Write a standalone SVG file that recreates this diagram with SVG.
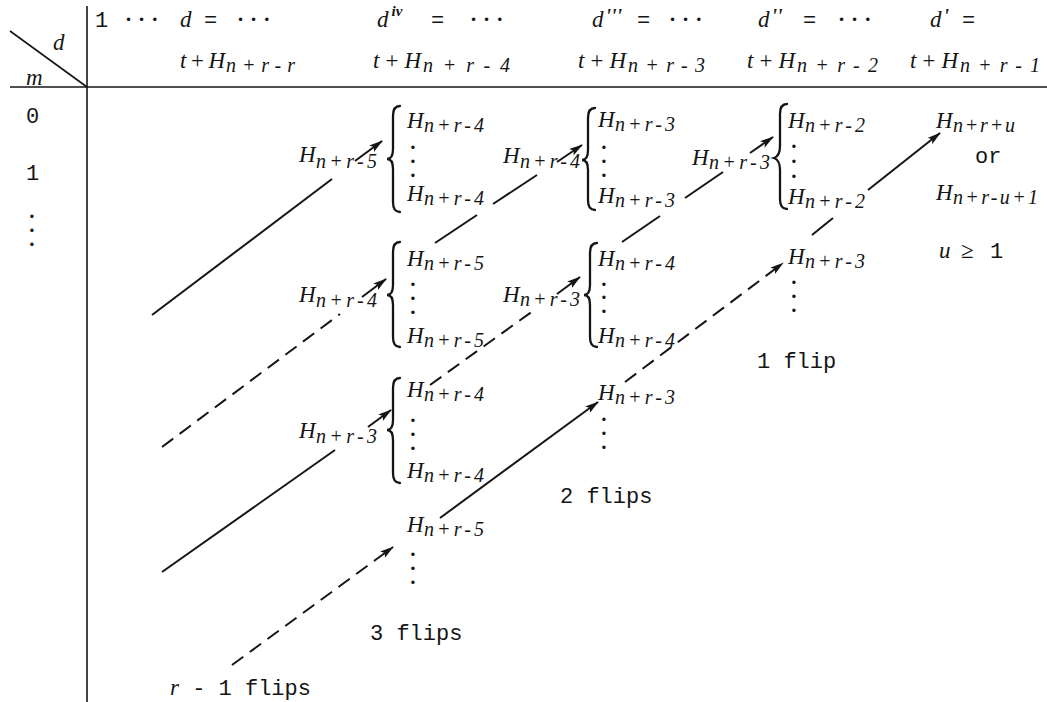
<svg xmlns="http://www.w3.org/2000/svg" width="1047" height="702" viewBox="0 0 1047 702">
<defs>
<style>
.m{font-family:"Liberation Serif",serif;font-style:italic;font-size:23px;fill:#151515}
.s{font-family:"Liberation Serif",serif;font-style:italic;font-size:20px;fill:#151515}
.t{font-family:"Liberation Mono",monospace;font-size:22px;fill:#151515}
.el{font-family:"DejaVu Sans",sans-serif;font-size:12px;letter-spacing:6px;fill:#151515}
.vd{font-family:"DejaVu Sans",sans-serif;font-size:11.5px;text-anchor:middle;fill:#151515}
.ln{stroke:#151515;stroke-width:2;fill:none}
.ds{stroke-dasharray:14 8}
.br{stroke:#151515;stroke-width:2.3;fill:none;stroke-linecap:round}
.fr{stroke:#151515;stroke-width:1.6;fill:none}
</style>
<marker id="ah" viewBox="0 0 14 8" refX="13" refY="4" markerWidth="14" markerHeight="8" markerUnits="userSpaceOnUse" orient="auto">
<path d="M0,0 L14,4 L0,8 L3,4 z" fill="#151515"/>
</marker>
</defs>
<rect width="1047" height="702" fill="#fff"/>

<g id="frame">
<line class="fr" x1="87" y1="6" x2="87" y2="702"/>
<line class="fr" x1="10" y1="87" x2="1047" y2="87"/>
<line class="fr" x1="10" y1="31" x2="87" y2="87"/>
<text class="m" x="53" y="50">d</text>
<text class="m" x="26" y="85" font-size="19">m</text>
</g>

<g id="header">
<g id="col-d">
<text class="t" x="95" y="27">1</text>
<text class="el" x="125" y="24">•••</text>
<text class="m" x="180" y="27">d</text>
<text class="t" x="204" y="27">=</text>
<text class="el" x="237" y="24">•••</text>
<text class="m" x="180" y="68" textLength="45" lengthAdjust="spacing">t + H</text>
<text class="s" x="226" y="72" textLength="69" lengthAdjust="spacing">n+r-r</text>
</g>
<g id="col-div">
<text class="m" x="377" y="27">d<tspan font-size="15" font-weight="bold" dx="3" dy="-11">iv</tspan></text>
<text class="t" x="431" y="27">=</text>
<text class="el" x="470" y="24">•••</text>
<text class="m" x="373" y="68" textLength="48" lengthAdjust="spacing">t + H</text>
<text class="s" x="423" y="72" textLength="87" lengthAdjust="spacing">n+r-4</text>
</g>
<g id="col-diii">
<text class="m" x="592" y="27">d<tspan font-weight="bold" font-size="20" dx="2" dy="-4">'''</tspan></text>
<text class="t" x="637" y="27">=</text>
<text class="el" x="669" y="24">•••</text>
<text class="m" x="578" y="68" textLength="48" lengthAdjust="spacing">t + H</text>
<text class="s" x="628" y="72" textLength="77" lengthAdjust="spacing">n+r-3</text>
</g>
<g id="col-dii">
<text class="m" x="758" y="27">d<tspan font-weight="bold" font-size="20" dx="2" dy="-4">''</tspan></text>
<text class="t" x="803" y="27">=</text>
<text class="el" x="838" y="24">•••</text>
<text class="m" x="747" y="68" textLength="48" lengthAdjust="spacing">t + H</text>
<text class="s" x="797" y="72" textLength="81" lengthAdjust="spacing">n+r-2</text>
</g>
<g id="col-di">
<text class="m" x="930" y="27">d<tspan font-weight="bold" font-size="20" dx="2" dy="-4">'</tspan></text>
<text class="t" x="962" y="27">=</text>
<text class="m" x="910" y="68" textLength="48" lengthAdjust="spacing">t + H</text>
<text class="s" x="960" y="72" textLength="80" lengthAdjust="spacing">n+r-1</text>
</g>
</g>

<g id="row-labels">
<text class="t" x="26" y="123">0</text>
<text class="t" x="26" y="180">1</text>
<text class="vd" x="32" y="221">•</text><text class="vd" x="32" y="235">•</text><text class="vd" x="32" y="249">•</text>
</g>

<g id="node-A1">
<path class="br" d="M400,106 Q393,106 393,116 L393,149 Q393,159 387,159 Q393,159 393,169 L393,202 Q393,212 400,212"/>
<text class="m" x="407" y="128">H</text><text class="s" x="424" y="132" textLength="60" lengthAdjust="spacing">n+r-4</text>
<text class="vd" x="413" y="152">•</text><text class="vd" x="413" y="166">•</text><text class="vd" x="413" y="180">•</text>
<text class="m" x="407" y="201">H</text><text class="s" x="424" y="205" textLength="60" lengthAdjust="spacing">n+r-4</text>
</g>
<g id="label-A1-in">
<text class="m" x="299" y="162">H</text><text class="s" x="316" y="168" textLength="61" lengthAdjust="spacing">n+r-5</text>
</g>

<g id="node-A2">
<path class="br" d="M400,242 Q393,242 393,252 L393,285 Q393,295 387,295 Q393,295 393,305 L393,337 Q393,347 400,347"/>
<text class="m" x="407" y="266">H</text><text class="s" x="424" y="270" textLength="60" lengthAdjust="spacing">n+r-5</text>
<text class="vd" x="413" y="289">•</text><text class="vd" x="413" y="303">•</text><text class="vd" x="413" y="317">•</text>
<text class="m" x="407" y="343">H</text><text class="s" x="424" y="347" textLength="60" lengthAdjust="spacing">n+r-5</text>
</g>
<g id="label-A2-in">
<text class="m" x="299" y="302">H</text><text class="s" x="316" y="307" textLength="61" lengthAdjust="spacing">n+r-4</text>
</g>

<g id="node-A3">
<path class="br" d="M400,378 Q393,378 393,388 L393,420 Q393,430 387,430 Q393,430 393,440 L393,473 Q393,483 400,483"/>
<text class="m" x="407" y="397">H</text><text class="s" x="424" y="401" textLength="60" lengthAdjust="spacing">n+r-4</text>
<text class="vd" x="413" y="425">•</text><text class="vd" x="413" y="439">•</text><text class="vd" x="413" y="453">•</text>
<text class="m" x="407" y="478">H</text><text class="s" x="424" y="482" textLength="60" lengthAdjust="spacing">n+r-4</text>
</g>
<g id="label-A3-in">
<text class="m" x="299" y="438">H</text><text class="s" x="316" y="443" textLength="61" lengthAdjust="spacing">n+r-3</text>
</g>

<g id="node-A4">
<text class="m" x="407" y="532">H</text><text class="s" x="424" y="536" textLength="60" lengthAdjust="spacing">n+r-5</text>
<text class="vd" x="413" y="559">•</text><text class="vd" x="413" y="573">•</text><text class="vd" x="413" y="587">•</text>
</g>

<g id="node-B1">
<path class="br" d="M595,108 Q588,108 588,118 L588,150 Q588,160 582,160 Q588,160 588,170 L588,200 Q588,210 595,210"/>
<text class="m" x="598" y="127">H</text><text class="s" x="615" y="131" textLength="60" lengthAdjust="spacing">n+r-3</text>
<text class="vd" x="604" y="152">•</text><text class="vd" x="604" y="166">•</text><text class="vd" x="604" y="180">•</text>
<text class="m" x="598" y="203">H</text><text class="s" x="615" y="207" textLength="60" lengthAdjust="spacing">n+r-3</text>
</g>
<g id="label-B1-in">
<text class="m" x="503" y="163">H</text><text class="s" x="520" y="168" textLength="60" lengthAdjust="spacing">n+r-4</text>
</g>

<g id="node-B2">
<path class="br" d="M597,243 Q590,243 590,253 L590,285 Q590,295 584,295 Q590,295 590,305 L590,337 Q590,347 597,347"/>
<text class="m" x="598" y="266">H</text><text class="s" x="615" y="270" textLength="60" lengthAdjust="spacing">n+r-4</text>
<text class="vd" x="604" y="289">•</text><text class="vd" x="604" y="302">•</text><text class="vd" x="604" y="316">•</text>
<text class="m" x="598" y="343">H</text><text class="s" x="615" y="347" textLength="60" lengthAdjust="spacing">n+r-4</text>
</g>
<g id="label-B2-in">
<text class="m" x="503" y="302">H</text><text class="s" x="520" y="306" textLength="60" lengthAdjust="spacing">n+r-3</text>
</g>

<g id="node-B3">
<text class="m" x="598" y="400">H</text><text class="s" x="615" y="404" textLength="60" lengthAdjust="spacing">n+r-3</text>
<text class="vd" x="604" y="424">•</text><text class="vd" x="604" y="438">•</text><text class="vd" x="604" y="452">•</text>
</g>

<g id="node-C1">
<path class="br" d="M787,104 Q780,104 780,114 L780,146 Q780,156 774,158 Q780,160 780,170 L780,199 Q780,209 787,209"/>
<text class="m" x="788" y="128">H</text><text class="s" x="805" y="132" textLength="60" lengthAdjust="spacing">n+r-2</text>
<text class="vd" x="794" y="151">•</text><text class="vd" x="794" y="166">•</text><text class="vd" x="794" y="181">•</text>
<text class="m" x="788" y="204">H</text><text class="s" x="805" y="208" textLength="60" lengthAdjust="spacing">n+r-2</text>
</g>
<g id="label-C1-in">
<text class="m" x="692" y="165">H</text><text class="s" x="709" y="169" textLength="61" lengthAdjust="spacing">n+r-3</text>
</g>

<g id="node-C2">
<text class="m" x="788" y="264">H</text><text class="s" x="805" y="268" textLength="60" lengthAdjust="spacing">n+r-3</text>
<text class="vd" x="794" y="287">•</text><text class="vd" x="794" y="301">•</text><text class="vd" x="794" y="315">•</text>
</g>

<g id="node-D">
<text class="m" x="936" y="128">H</text><text class="s" x="953" y="132" textLength="62" lengthAdjust="spacing">n+r+u</text>
<text class="t" x="975" y="163">or</text>
<text class="m" x="936" y="200">H</text><text class="s" x="953" y="204" textLength="85" lengthAdjust="spacing">n+r-u+1</text>
<text class="m" x="939" y="258">u<tspan font-style="normal" x="961">≥</tspan><tspan class="t" font-style="normal" x="990">1</tspan></text>
</g>

<g id="flip-labels">
<text class="t" x="757" y="368">1 flip</text>
<text class="t" x="560" y="503">2 flips</text>
<text class="t" x="370" y="640">3 flips</text>
<text class="t" x="170" y="695"><tspan class="m">r</tspan> - 1 flips</text>
</g>

<g id="connectors">
<line class="ln" x1="152" y1="315" x2="332" y2="179"/>
<line class="ln" x1="355" y1="161" x2="382" y2="141" marker-end="url(#ah)"/>
<line class="ln ds" x1="162" y1="447" x2="340" y2="314"/>
<line class="ln" x1="362" y1="297" x2="386" y2="279" marker-end="url(#ah)"/>
<line class="ln" x1="162" y1="572" x2="335" y2="450"/>
<line class="ln" x1="368" y1="427" x2="391" y2="410" marker-end="url(#ah)"/>
<line class="ln ds" x1="232" y1="665" x2="393" y2="547" marker-end="url(#ah)"/>
<line class="ln" x1="435" y1="243" x2="477" y2="215"/>
<line class="ln" x1="493" y1="204" x2="537" y2="175"/>
<line class="ln" x1="557" y1="162" x2="582" y2="145" marker-end="url(#ah)"/>
<line class="ln ds" x1="430" y1="385" x2="537" y2="308"/>
<line class="ln" x1="557" y1="294" x2="580" y2="277" marker-end="url(#ah)"/>
<line class="ln" x1="440" y1="518" x2="598" y2="402" marker-end="url(#ah)"/>
<line class="ln" x1="622" y1="242" x2="660" y2="216"/>
<line class="ln" x1="685" y1="198" x2="723" y2="172"/>
<line class="ln" x1="750" y1="153" x2="773" y2="137" marker-end="url(#ah)"/>
<line class="ln ds" x1="625" y1="382" x2="783" y2="263" marker-end="url(#ah)"/>
<line class="ln" x1="812" y1="235" x2="833" y2="218"/>
<line class="ln" x1="868" y1="190" x2="940" y2="133" marker-end="url(#ah)"/>
</g>
</svg>
